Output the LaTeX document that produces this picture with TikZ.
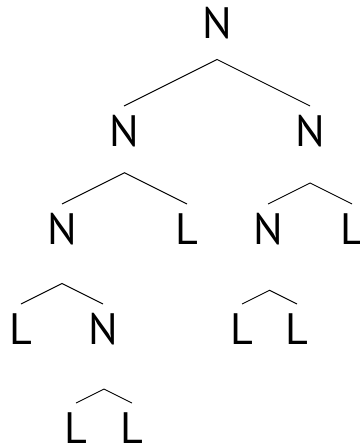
\documentclass[tikz,border=0pt]{standalone}
\usepackage{fontspec}
\setsansfont{PT Sans}
\usetikzlibrary{calc}
\begin{document}
\begin{tikzpicture}[x=1pt, y=-1pt,
  lbl/.style={font=\sffamily\fontsize{44}{44}\selectfont, inner sep=0pt, anchor=north},
  roof/.style={line width=0.9pt}]
\useasboundingbox (0,0) rectangle (359,446);
% ---------- the labels, row by row ----------
\node[lbl] (t0)  at (217,7)   {N};
\node[lbl] (t1)  at (124,115) {N};
\node[lbl] (t2)  at (310,115) {N};
\node[lbl] (t11) at (62,213)  {N};
\node[lbl] (t12) at (187,213) {L};
\node[lbl] (t21) at (268,213) {N};
\node[lbl] (t22) at (352,213) {L};
\node[lbl] (t111) at (21,313)  {L};
\node[lbl] (t112) at (103,313) {N};
\node[lbl] (t211) at (242,313) {L};
\node[lbl] (t212) at (297,313) {L};
\node[lbl] (t1121) at (76,412)  {L};
\node[lbl] (t1122) at (132,412) {L};
% ---------- roofs over each pair of children ----------
\foreach \l/\r in {t1/t2, t11/t12, t21/t22, t111/t112, t211/t212, t1121/t1122}{
  \draw[roof] let \p1=(\l.north), \p2=(\r.north) in
    ($(\p1)+(0,-9)$) coordinate (\l-end)
    -- (\x1/2+\x2/2, {\y1+9pt+(\x2-\x1)/4}) coordinate (\l-top)
    -- ($(\p2)+(0,-9)$) coordinate (\r-end);
}
\end{tikzpicture}
\end{document}
